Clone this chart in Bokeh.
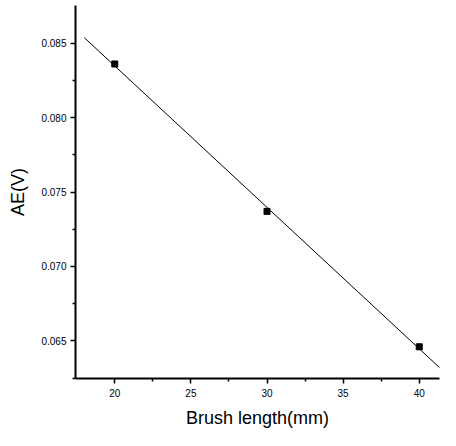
import numpy as np
from bokeh.plotting import figure
from bokeh.models import FixedTicker, CustomJSTickFormatter, Range1d
from bokeh.embed import file_html
from bokeh.resources import INLINE

# data
brush_length = [20, 30, 40]
ae_values = [0.0836, 0.0737, 0.0646]
fit_span = [18, 42]
x_ticks = [20, 25, 30, 35, 40]
y_ticks = [0.065, 0.070, 0.075, 0.080, 0.085]

slope, intercept = np.polyfit(brush_length, ae_values, 1)
fit_x = np.array(fit_span, dtype=float)
fit_y = slope * fit_x + intercept

p = figure(width=440, height=430, output_backend="svg", toolbar_location=None,
           x_range=Range1d(17.42, 41.33), y_range=Range1d(0.06247, 0.08753),
           min_border_left=75, min_border_right=1, min_border_top=5, min_border_bottom=49)
p.outline_line_color = None
p.xgrid.visible = False
p.ygrid.visible = False
p.background_fill_color = "white"

p.line(fit_x, fit_y, line_color="black", line_width=1)
p.scatter(brush_length, ae_values, marker="square", size=6, color="black")

for ax in (p.xaxis[0], p.yaxis[0]):
    ax.axis_line_width = 2
    ax.axis_line_color = "black"
    ax.major_tick_line_color = "black"
    ax.minor_tick_line_color = "black"
    ax.major_tick_line_width = 1.5
    ax.minor_tick_line_width = 1.5
    ax.major_tick_in = 0
    ax.major_tick_out = 5
    ax.minor_tick_in = 0
    ax.minor_tick_out = 3
    ax.major_label_text_font = "Liberation Sans"
    ax.major_label_text_font_size = "10px"
    ax.major_label_text_color = "black"
    ax.axis_label_text_font = "Liberation Sans"
    ax.axis_label_text_font_size = "18px"
    ax.axis_label_text_font_style = "normal"
    ax.axis_label_text_color = "black"

p.xaxis.ticker = FixedTicker(ticks=x_ticks, minor_ticks=[22.5, 27.5, 32.5, 37.5])
p.yaxis.ticker = FixedTicker(ticks=y_ticks, minor_ticks=[0.0625 + 0.005 * i for i in range(5)])
p.yaxis.formatter = CustomJSTickFormatter(code="return tick.toFixed(3);")
p.xaxis.axis_label = "Brush length(mm)"
p.yaxis.axis_label = "AE(V)"
p.xaxis.major_label_standoff = 5
p.yaxis.major_label_standoff = 4
p.xaxis.axis_label_standoff = 8
p.yaxis.axis_label_standoff = 10

open("out.html", "w").write(file_html(p, INLINE))
